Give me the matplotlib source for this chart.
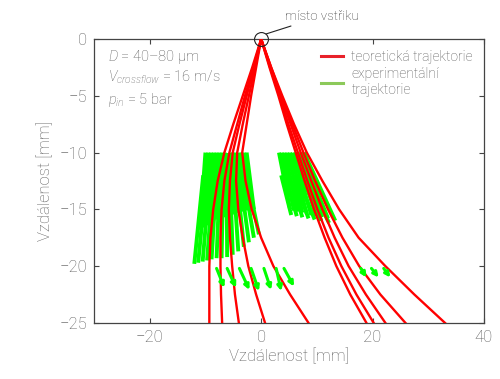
import matplotlib
matplotlib.use("Agg")
import matplotlib.pyplot as plt
from matplotlib.lines import Line2D

plt.rcParams['font.family'] = ['Roboto', 'DejaVu Sans']
plt.rcParams['font.weight'] = 'light'
plt.rcParams['mathtext.fontset'] = 'custom'
plt.rcParams['mathtext.it'] = 'Roboto:italic:light'
plt.rcParams['mathtext.rm'] = 'Roboto:light'

TXT = '#5a5a5a'

# ---- theoretical trajectories (x in mm at given depths y) ----
y_levels = [0, -2.5, -5, -7.5, -10, -12.5, -15, -17.5, -20, -22.5, -25]
red_L1 = [0, -1.6, -3.3, -5.0, -6.6, -7.8, -8.6, -9.1, -9.3, -9.3, -9.3]
red_L2 = [0, -1.4, -2.9, -4.3, -5.7, -6.6, -7.1, -7.3, -7.3, -7.2, -7.0]
red_L3 = [0, -1.3, -2.6, -3.9, -5.1, -5.6, -5.8, -5.6, -5.2, -4.7, -4.0]
red_L4 = [0, -1.1, -2.2, -3.3, -4.3, -4.5, -4.1, -3.3, -2.3, -0.9, 0.7]
red_L5 = [0, -0.9, -1.8, -2.6, -3.4, -2.8, -1.7, 0.0, 2.2, 5.2, 8.5]
red_R1 = [0, 1.5, 3.1, 4.6, 6.2, 7.8, 9.5, 11.4, 13.5, 16.0, 18.9]
red_R2 = [0, 1.6, 3.3, 4.9, 6.6, 8.3, 10.1, 12.1, 14.4, 17.1, 20.2]
red_R3 = [0, 1.7, 3.5, 5.3, 7.1, 9.0, 11.0, 13.2, 15.7, 18.8, 22.3]
red_R4 = [0, 1.8, 3.6, 5.6, 7.6, 9.7, 12.0, 14.6, 17.6, 21.4, 25.9]
red_R5 = [0, 1.8, 3.8, 5.9, 8.2, 11.0, 14.0, 17.5, 22.3, 27.5, 33.0]
red_curves = [red_L1, red_L2, red_L3, red_L4, red_L5,
              red_R1, red_R2, red_R3, red_R4, red_R5]

# ---- experimental trajectories (segments: x0, y0, x1, y1) ----
gA_x0 = [-10.0, -9.5, -9.0, -8.5, -8.0, -7.5, -7.0, -6.5, -6.0, -5.5, -5.0, -4.5, -4.0, -3.5, -3.0, -2.6]
gA_y0 = [-10.0] * 16
gA_x1 = [-11.0, -10.4, -9.8, -9.2, -8.6, -8.0, -7.3, -6.7, -6.0, -5.3, -4.7, -4.0, -3.3, -2.6, -1.9, -1.3]
gA_y1 = [-16.8, -16.6, -16.4, -16.2, -16.0, -15.9, -15.8, -15.7, -15.6, -15.5, -15.4, -15.3, -15.2, -15.1, -15.0, -15.0]

gB_x0 = [-10.4, -9.8, -9.2, -8.6, -8.0, -7.4, -6.8, -6.2, -5.6, -5.0, -4.4, -3.8, -3.2, -2.6]
gB_y0 = [-12.0] * 14
gB_x1 = [-12.0, -11.3, -10.5, -9.7, -8.9, -8.0, -7.1, -6.1, -5.1, -4.1, -3.1, -2.2, -1.3, -0.4]
gB_y1 = [-19.8, -19.7, -19.6, -19.5, -19.4, -19.3, -19.3, -19.2, -19.0, -18.7, -18.3, -17.9, -17.5, -17.2]

gC_x0 = [3.2, 3.7, 4.2, 4.7, 5.2, 5.7, 6.2, 6.7, 7.2, 7.7]
gC_y0 = [-10.0] * 10
gC_x1 = [5.2, 5.9, 6.6, 7.4, 8.2, 9.0, 9.9, 10.9, 12.0, 13.3]
gC_y1 = [-15.0, -15.1, -15.2, -15.3, -15.4, -15.5, -15.6, -15.7, -15.8, -16.0]

gD_x0 = [3.6, 4.3, 5.0, 5.7, 6.4, 7.1, 7.8]
gD_y0 = [-12.0] * 7
gD_x1 = [5.4, 6.4, 7.4, 8.5, 9.6, 10.8, 12.2]
gD_y1 = [-15.5, -15.6, -15.7, -15.8, -15.9, -16.0, -16.2]

arr_x0 = [-8.0, -6.1, -3.9, -1.8, 0.5, 2.7, 4.1, 17.9, 19.8, 22.0]
arr_y0 = [-20.2, -20.2, -20.2, -20.2, -20.2, -20.2, -20.2, -20.2, -20.2, -20.2]
arr_x1 = [-6.6, -4.5, -2.1, -0.4, 1.8, 3.6, 5.9, 18.9, 21.1, 23.2]
arr_y1 = [-21.9, -21.9, -22.1, -22.2, -22.1, -22.2, -21.8, -21.0, -21.0, -21.0]

x_ticks = [-20, 0, 20, 40]
y_ticks = [0, -5, -10, -15, -20, -25]

fig = plt.figure(figsize=(5.0, 3.79), dpi=100)
ax = fig.add_axes([0.188, 0.148, 0.78, 0.749])

GREEN = '#00ff00'
for xs, ys, xe, ye in [(gA_x0, gA_y0, gA_x1, gA_y1), (gB_x0, gB_y0, gB_x1, gB_y1),
                       (gC_x0, gC_y0, gC_x1, gC_y1), (gD_x0, gD_y0, gD_x1, gD_y1)]:
    for a, b, c, d in zip(xs, ys, xe, ye):
        ax.plot([a, c], [b, d], color=GREEN, lw=2.8, solid_capstyle='butt', zorder=2)

for xs in red_curves:
    ax.plot(xs, y_levels, color='#ff0000', lw=1.7, zorder=3)

for a, b, c, d in zip(arr_x0, arr_y0, arr_x1, arr_y1):
    ax.annotate('', xy=(c, d), xytext=(a, b),
                arrowprops=dict(arrowstyle='-|>', color=GREEN, lw=2.2,
                                mutation_scale=7, shrinkA=0, shrinkB=0), zorder=4)

ax.set_xlim(-30, 40)
ax.set_ylim(-25, 0)
ax.set_xticks(x_ticks)
ax.set_yticks(y_ticks)
ax.set_xticklabels(['\u221220', '0', '20', '40'])
ax.set_yticklabels(['0', '\u22125', '\u221210', '\u221215', '\u221220', '\u221225'])
ax.tick_params(direction='in', length=3.5, width=0.8, colors='#444444',
               labelcolor=TXT, labelsize=12, top=True, right=True, pad=5)
for s in ax.spines.values():
    s.set_color('#444444')
    s.set_linewidth(0.9)

ax.set_xlabel('Vzdálenost [mm]', fontsize=12, color=TXT, labelpad=2, fontweight='light')
ax.set_ylabel('Vzdálenost [mm]', fontsize=12, color=TXT, labelpad=4, fontweight='light')

# injection point marker + annotation
ax.plot([0], [0], marker='o', ms=10, mfc='none', mec='#222222', mew=0.8,
        clip_on=False, zorder=5)
ax.annotate('místo vstřiku', xy=(0.9, 0.45), xytext=(4.2, 2.0),
            fontsize=9.5, color='#333333', va='center', ha='left',
            arrowprops=dict(arrowstyle='-', color='#222222', lw=0.8,
                            shrinkA=1, shrinkB=0),
            annotation_clip=False)

# parameters text
ax.text(-27.4, -1.55, r'$D$ = 40–80 μm', fontsize=10.5, color=TXT, va='center')
ax.text(-27.4, -3.4, r'$V_{crossflow}$ = 16 m/s', fontsize=10.5, color=TXT, va='center')
ax.text(-27.4, -5.35, r'$p_{in}$ = 5 bar', fontsize=10.5, color=TXT, va='center')

handles = [Line2D([], [], color='#e8222a', lw=2.2),
           Line2D([], [], color='#8cc95a', lw=2.2)]
ax.legend(handles, ['teoretická trajektorie', 'experimentální\ntrajektorie'],
          loc='upper right', bbox_to_anchor=(1.0, 1.0), frameon=False,
          fontsize=10, labelcolor=TXT, handlelength=1.6, handletextpad=0.6,
          labelspacing=0.2, borderaxespad=0.4)

fig.savefig('out.png', dpi=100)
